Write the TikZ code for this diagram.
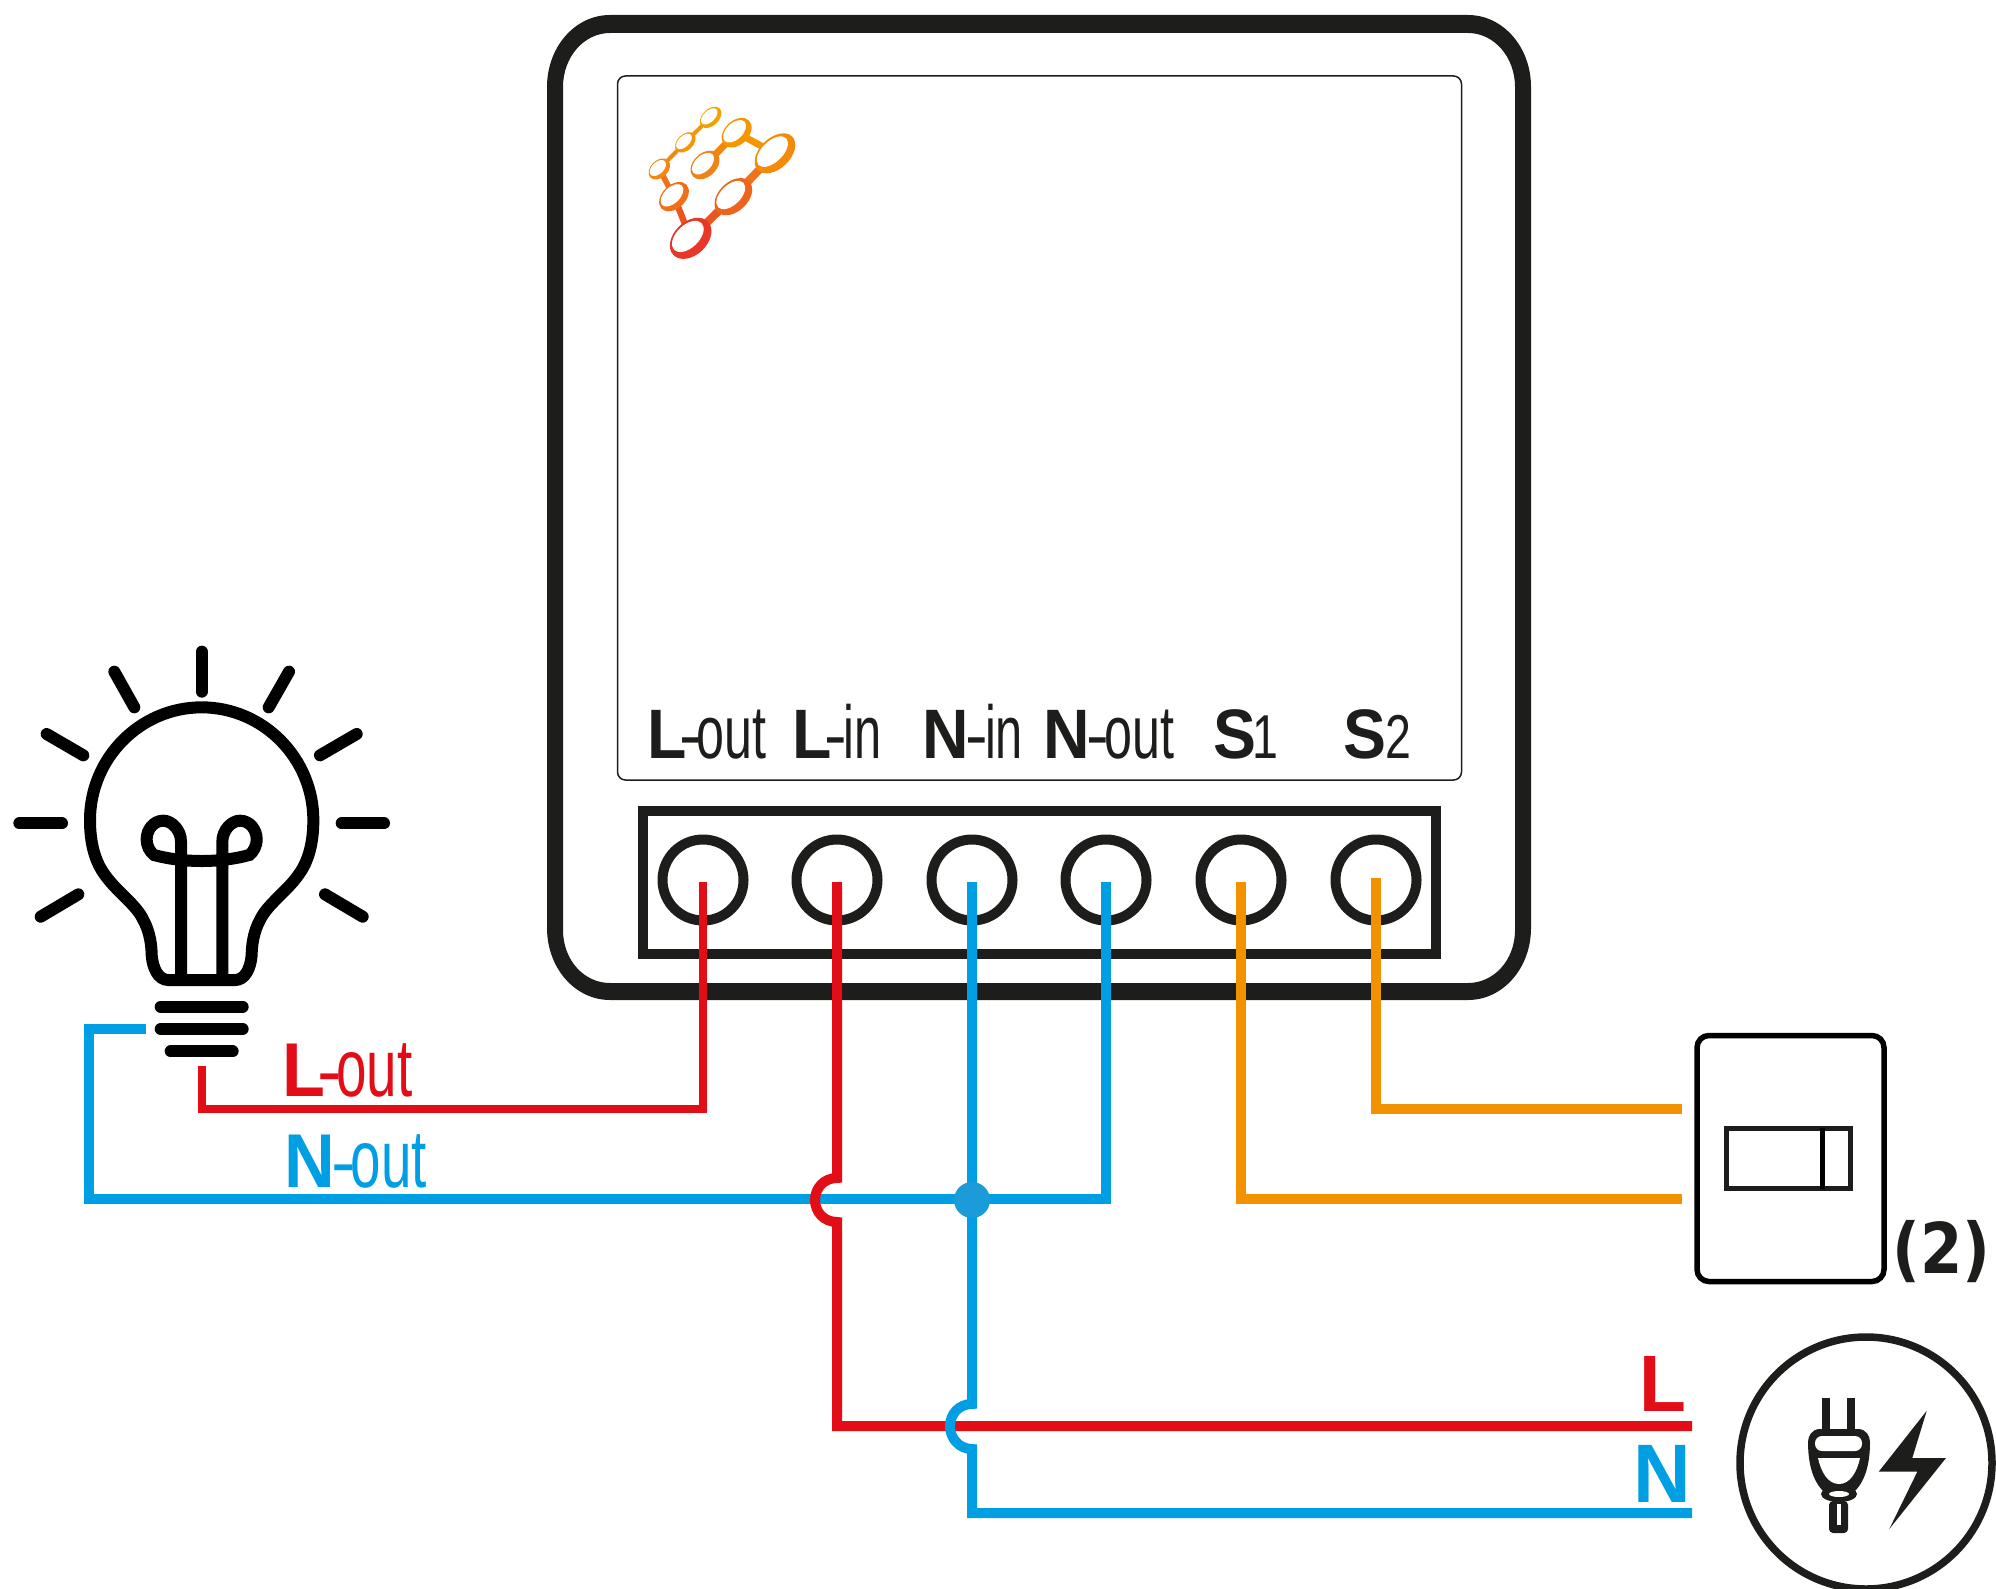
\documentclass[tikz,border=0pt]{standalone}
\usepackage{fontspec}
\setmainfont{Liberation Sans}
\newfontfamily\dvbold{DejaVu Sans Bold}
\definecolor{ink}{HTML}{1D1D1B}
\definecolor{wred}{HTML}{E30D17}
\definecolor{wblue}{HTML}{009FE3}
\definecolor{worange}{HTML}{F39200}
\definecolor{dotblue}{HTML}{1B9CD8}
% bold letter, light rest, x-scale of the rest, kern before hyphen, kern after hyphen
\newcommand\wlabel[5]{{\fontsize{35}{35}\selectfont\bfseries\scalebox{.92}[1]{#1}}\kern#4pt{\fontsize{34}{34}\selectfont -}\kern#5pt\scalebox{#3}[1]{\fontsize{37.5}{37.5}\selectfont #2}}
\newcommand\slabel[3]{{\fontsize{35}{35}\selectfont\bfseries\scalebox{.92}[1]{#1}}\kern#3pt\scalebox{.75}[1]{\fontsize{31}{31}\selectfont #2}}
\newcommand\logoring[5]{\begin{scope}[shift={(#1,#2)},rotate=44]
  \definecolor{ringc}{RGB}{#5}
  \fill[ringc] (0,0) ellipse[x radius=#3,y radius=#4];
  \fill[white] ({-0.03*#3},{-0.2*#4}) ellipse[x radius={#3*0.8},y radius={#4*0.68}];
\end{scope}}
\definecolor{lg1}{RGB}{245,150,0}
\definecolor{lg2}{RGB}{243,135,10}
\definecolor{lg3}{RGB}{240,115,25}
\definecolor{lg4}{RGB}{235,85,30}
\tikzset{
  wire/.style={line width=5pt},
  term/.style={circle,draw=ink,line width=5pt,minimum size=40.5pt,inner sep=0pt},
  lbl/.style={anchor=base west,inner sep=0pt,outer sep=0pt},
  bulbline/.style={line width=6pt,line cap=round,black},
}
\begin{document}
\begin{tikzpicture}[x=0.5pt,y=-0.5pt]
\useasboundingbox (0,0) rectangle (1996,1589);
\clip (0,0) rectangle (1996,1589);
% device
\fill[ink,even odd rule] (610,15) -- (1468,15) .. controls (1503,15) and (1531,47) .. (1531,87)
  -- (1531,928) .. controls (1531,968) and (1503,1000) .. (1468,1000)
  -- (610,1000) .. controls (575,1000) and (547,968) .. (547,928)
  -- (547,87) .. controls (547,47) and (575,15) .. (610,15) -- cycle
  (610,33) -- (1468,33) .. controls (1494,33) and (1515,57) .. (1515,87)
  -- (1515,930) .. controls (1515,960) and (1494,983) .. (1468,983)
  -- (610,983) .. controls (584,983) and (563,960) .. (563,930)
  -- (563,87) .. controls (563,57) and (584,33) .. (610,33) -- cycle;
\node[draw=ink,line width=0.75pt,rounded corners=4pt,minimum width=422pt,minimum height=352pt,inner sep=0pt] (screen) at (1039.5,428) {};
% terminal block
\node[draw=ink,line width=5pt,minimum width=396.5pt,minimum height=71.5pt,inner sep=0pt] (block) at (1039.5,882.5) {};
\node[term] (t1) at (703,880) {};
\node[term] (t2) at (837,880) {};
\node[term] (t3) at (972,880) {};
\node[term] (t4) at (1106,880) {};
\node[term] (t5) at (1241,880) {};
\node[term] (t6) at (1376,880) {};
% labels
\node[lbl,text=ink] (lt1) at (647,758) {\wlabel{L}{out}{.67}{-3.5}{-2.5}};
\node[lbl,text=ink] (lt2) at (792,758) {\wlabel{L}{in}{.65}{-3.5}{-1.5}};
\node[lbl,text=ink] (lt3) at (922,758) {\wlabel{N}{in}{.65}{-1.5}{-1.5}};
\node[lbl,text=ink] (lt4) at (1043,758) {\wlabel{N}{out}{.67}{-1.5}{-2.5}};
\node[lbl,text=ink] (lt5) at (1213,758) {\slabel{S}{1}{-1.5}};
\node[lbl,text=ink] (lt6) at (1343,758) {\slabel{S}{2}{0}};
% logo
\begin{scope}[shift={(620,90)},x=0.16667pt,y=-0.16667pt]
  \draw[line width=2pt,lg1] (272,82) -- (196,157);
  \draw[line width=2pt,lg2] (196,157) -- (118,237);
  \draw[line width=2.8pt,lg3] (118,237) -- (162,320);
  \draw[line width=3.2pt,lg4] (162,320) -- (212,445);
  \draw[line width=3.4pt,lg2] (350,128) -- (255,225);
  \draw[line width=3.4pt,lg1] (350,128) -- (465,190);
  \draw[line width=4pt,lg3] (465,190) -- (340,320);
  \draw[line width=4pt,lg4] (340,320) -- (212,445);
  \logoring{272}{82}{38}{25}{246,160,0}
  \logoring{196}{157}{36}{24}{245,148,5}
  \logoring{118}{237}{37}{26}{243,135,15}
  \logoring{162}{320}{52}{35}{240,112,25}
  \logoring{212}{445}{72}{50}{232,55,40}
  \logoring{340}{320}{66}{44}{238,100,28}
  \logoring{255}{225}{50}{35}{241,130,20}
  \logoring{350}{128}{52}{36}{245,150,0}
  \logoring{465}{190}{72}{46}{243,138,10}
\end{scope}
% bulb
\begin{scope}[shift={(0,630)},x=0.16667pt,y=-0.16667pt]
  \draw[bulbline] (605,65) -- (605,185);
  \draw[bulbline] (343,125) -- (403,232);
  \draw[bulbline] (867,125) -- (806,232);
  \draw[bulbline] (140,312) -- (250,376);
  \draw[bulbline] (1070,312) -- (960,376);
  \draw[bulbline] (58,580) -- (186,580);
  \draw[bulbline] (1025,580) -- (1152,580);
  \draw[bulbline] (235,793) -- (122,860);
  \draw[bulbline] (975,793) -- (1088,860);
  \draw[bulbline] (605,232) .. controls (790,232) and (940,385) .. (940,570)
    .. controls (940,640) and (925,695) .. (895,735)
    .. controls (860,785) and (800,825) .. (780,870)
    .. controls (760,905) and (755,950) .. (755,975)
    .. controls (752,1015) and (735,1050) .. (705,1050)
    -- (505,1050) .. controls (475,1050) and (458,1015) .. (455,975)
    .. controls (455,950) and (450,905) .. (430,870)
    .. controls (410,825) and (350,785) .. (315,735)
    .. controls (285,695) and (270,640) .. (270,570)
    .. controls (270,385) and (420,232) .. (605,232) -- cycle;
  \draw[bulbline] (543,1050) -- (543,635) .. controls (543,600) and (515,572) .. (490,572)
    .. controls (460,572) and (440,600) .. (440,627) .. controls (440,650) and (450,665) .. (462,675)
    .. controls (510,688) and (560,693) .. (605,693) .. controls (650,693) and (700,688) .. (748,675)
    .. controls (760,665) and (770,650) .. (770,627) .. controls (770,600) and (750,572) .. (720,572)
    .. controls (695,572) and (667,600) .. (667,635) -- (667,1050);
  \draw[bulbline] (482,1130) -- (728,1130);
  \draw[bulbline] (482,1197) -- (728,1197);
  \draw[bulbline] (512,1264) -- (698,1264);
\end{scope}
% free ends
\coordinate (bulbL) at (202,1066);
\coordinate (bulbN) at (146,1029);
\coordinate (endL) at (1692,1426);
\coordinate (endN) at (1692,1513);
\coordinate (sw1) at (1682,1109);
\coordinate (sw2) at (1682,1199);
\coordinate (t1s) at (703,882);
\coordinate (t2s) at (837,882);
\coordinate (t3s) at (972,882);
\coordinate (t4s) at (1106,882);
\coordinate (t5s) at (1241,882);
\coordinate (t6s) at (1376,878);
% wires
\draw[wred,line width=4.2pt] (t1s) -- (703,1109) -- (202,1109) -- (bulbL);
\draw[wblue,wire] (bulbN) -- (89,1029) -- (89,1199) -- (1106,1199) -- (t4s);
\draw[wred,wire] (t2s) -- (837,1178) .. controls (824,1178) and (815,1188) .. (815,1200) .. controls (815,1212) and (824,1222) .. (837,1222) -- (837,1426) -- (endL);
\draw[wblue,wire] (t3s) -- (972,1404) .. controls (959,1404) and (950,1414) .. (950,1426) .. controls (950,1438) and (959,1449) .. (972,1449) -- (972,1513) -- (endN);
\fill[dotblue] (972,1200) circle[radius=18];
\draw[worange,wire] (t5s) -- (1241,1199) -- (sw2);
\draw[worange,wire] (t6s) -- (1376,1109) -- (sw1);
% wire labels
\node[lbl,text=wred] (llout) at (282,1096) {\scalebox{1.09}{\wlabel{L}{out}{.67}{-3.5}{-2.5}}};
\node[lbl,text=wblue] (lnout) at (284,1187) {\scalebox{1.09}{\wlabel{N}{out}{.67}{-1.5}{-2.5}}};
\node[lbl,text=wred,font=\bfseries\fontsize{40}{40}\selectfont] (ll) at (1639,1411) {\scalebox{.96}[1]{L}};
\node[lbl,text=wblue,font=\bfseries\fontsize{41.5}{41.5}\selectfont] (ln) at (1633,1502) {\scalebox{.96}[1]{N}};
% switch
\node[draw=black,line width=2.75pt,rounded corners=6pt,minimum width=93.5pt,minimum height=123pt,inner sep=0pt] (switch) at (1790.5,1158.5) {};
\node[draw=ink,line width=2.5pt,minimum width=62pt,minimum height=30pt,inner sep=0pt] (rocker) at (1788.5,1158.5) {};
\draw[black,line width=2.5pt] (1822,1128) -- (1822,1189);
\node[anchor=base west,inner sep=0pt,text=ink] (two) at (1892,1273) {\scalebox{.87}[1]{\dvbold\fontsize{35}{35}\selectfont (2)}};
% power
\node[circle,draw=ink,line width=3.75pt,minimum size=126pt,inner sep=0pt] (power) at (1866,1463) {};
\fill[ink] (1822,1398) rectangle (1830,1432);
\fill[ink] (1847,1398) rectangle (1855,1432);
\fill[ink] (1820,1429) -- (1858,1429) .. controls (1866,1429) and (1870,1436) .. (1870,1442)
  .. controls (1870,1470) and (1862,1487) .. (1850,1495) -- (1828,1495)
  .. controls (1816,1487) and (1808,1470) .. (1808,1442) .. controls (1808,1436) and (1812,1429) .. (1820,1429) -- cycle;
\fill[white,rounded corners=3.5pt] (1815,1436) rectangle (1862,1451);
\fill[white] (1818,1458) -- (1860,1458) .. controls (1857,1472) and (1850,1484) .. (1839,1484) .. controls (1828,1484) and (1821,1472) .. (1818,1458) -- cycle;
\fill[ink] (1839,1494) ellipse[x radius=18,y radius=8];
\fill[white] (1839,1494) ellipse[x radius=10,y radius=3];
\fill[ink,rounded corners=2pt] (1829,1501) rectangle (1848,1533);
\fill[white] (1837,1504) rectangle (1841,1525);
\fill[ink] (1926.7,1410.8) -- (1912.3,1458) -- (1946,1458) -- (1889.3,1529) -- (1917.3,1471.7) -- (1878.7,1471.7) -- cycle;
\end{tikzpicture}
\end{document}
